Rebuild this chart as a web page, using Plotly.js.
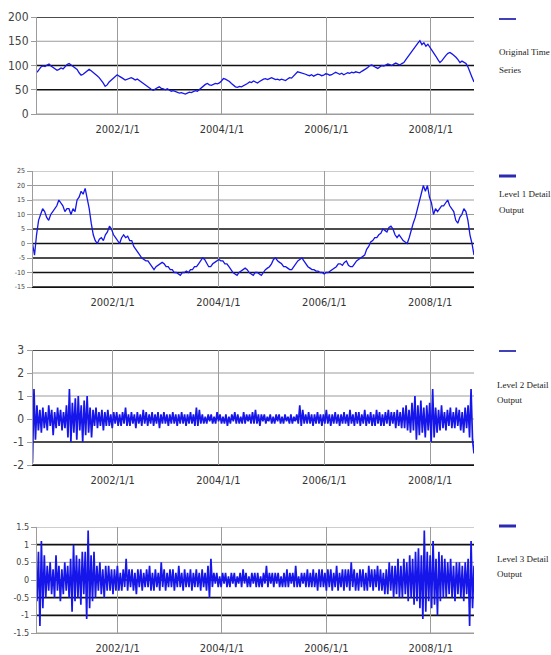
<!DOCTYPE html>
<html><head><meta charset="utf-8">
<script src="https://cdn.plot.ly/plotly-3.0.1.min.js"></script>
<style>html,body{margin:0;padding:0;background:#fff;overflow:hidden}#chart{width:551px;height:655px}</style>
</head><body><div id="chart"></div>
<script>
// ---- data ----
const original = [
86,92,97,99,98,101,103,99,96,93,
90,92,95,93,98,102,104,101,97,94,
92,85,80,82,86,90,92,89,86,83,
79,75,70,64,57,60,66,70,75,79,
81,78,76,73,70,72,74,75,73,70,
72,69,66,62,60,57,53,51,49,52,
54,56,53,52,50,52,49,47,48,46,
45,43,44,42,41,43,45,44,46,48,
47,51,54,58,61,63,60,59,61,63,
62,64,68,73,72,70,67,63,59,56,
55,57,56,58,60,63,66,65,68,66,
64,67,70,72,73,71,73,75,73,71,
72,70,72,71,69,72,75,74,78,84,
87,86,85,84,82,80,79,81,78,80,
82,81,79,80,83,82,80,81,84,86,
84,82,84,81,83,85,84,86,85,87,
86,85,88,90,93,96,100,101,98,96,
94,98,100,99,101,103,102,100,103,105,
103,101,104,106,112,118,124,130,135,140,
146,151,143,147,140,144,138,133,126,119,
112,106,110,116,121,125,127,124,121,117,
112,106,109,107,104,97,88,76,66
];
const level1 = [
0,-4,3,8,10,12,11,9,8,10,
11,12,13,15,14,13,11,12,12,10,
12,11,15,16,18,17,19,16,12,7,
3,1,0,1.5,2,1,3,4,6,5,
3,2,1,0,2,3,2,2.5,1,1,
-1,-2,-3,-4,-5,-5.5,-6,-6,-7,-8,
-9,-8,-7.5,-7,-6.5,-7,-8,-8,-9,-9,
-10,-10,-10.5,-11,-10,-10,-9.5,-10,-9,-9,
-8,-8,-7,-6,-5,-5.5,-7,-8,-8,-7,
-6.5,-6,-5.5,-6,-6,-7,-7,-8,-9,-10,
-10.5,-11,-10,-9.5,-9,-8.5,-9,-10,-10.5,-11,
-10,-10,-10.5,-11,-10,-9,-8.5,-8,-7,-5.5,
-5,-6,-6.5,-7,-8,-8,-8.5,-9,-9,-8,
-7,-6,-5.5,-5,-6,-7,-8,-8.5,-9,-9,
-9.5,-9.5,-10,-10,-10.5,-10,-10,-9.5,-9,-8.5,
-8,-7,-7,-7.5,-6.5,-6,-7.5,-8,-8,-7,
-6,-5.5,-5,-4.5,-4,-2,-1,0.5,1,2,
2,3,3.5,5,4.5,4,5.5,6,5,3,
2,3,2,1,0.5,0,2,5,7,9,
12,14,17,20,18,20,16,14,10,12,
11,12,13,13,14,15,13,12,11,8,
7,9,10,12,11,8,3,0,-4
];
const level2 = [
-1.9,1.3,-0.9,0.6,-0.5,0.4,-0.6,0.5,-0.4,0.3,
-0.5,0.6,-0.3,0.4,-0.7,0.3,-0.4,0.5,-0.3,0.4,
-0.5,0.3,-0.4,0.6,-0.8,1.3,-1.0,0.7,-0.6,0.9,
-0.9,1.0,-0.5,0.6,-1.0,0.8,-0.7,1.0,-0.6,0.5,
-0.8,0.4,-0.3,0.5,-0.4,0.3,-0.3,0.4,-0.5,0.3,
-0.3,0.4,-0.3,0.2,-0.4,0.3,-0.2,0.3,-0.3,0.2,
-0.3,0.3,-0.2,0.5,-0.3,0.2,-0.3,0.3,-0.2,0.2,
-0.4,0.3,-0.2,0.2,-0.3,0.4,-0.2,0.3,-0.3,0.2,
-0.2,0.3,-0.3,0.2,-0.2,0.3,-0.4,0.2,-0.2,0.3,
-0.2,0.2,-0.3,0.2,-0.2,0.3,-0.2,0.2,-0.3,0.2,
-0.2,0.3,-0.2,0.2,-0.3,0.2,-0.2,0.3,-0.2,0.2,
-0.3,0.5,-0.3,0.4,-0.2,0.2,-0.2,0.1,-0.2,0.2,
-0.1,0.2,-0.2,0.1,-0.2,0.3,-0.1,0.2,-0.2,0.1,
-0.2,0.2,-0.3,0.1,-0.2,0.2,-0.1,0.3,-0.2,0.2,
-0.2,0.1,-0.2,0.3,-0.2,0.2,-0.1,0.2,-0.2,0.3,
-0.2,0.4,-0.2,0.2,-0.3,0.2,-0.1,0.2,-0.2,0.1,
-0.1,0.2,-0.2,0.1,-0.2,0.2,-0.1,0.2,-0.2,0.1,
-0.2,0.2,-0.1,0.1,-0.2,0.2,-0.2,0.1,-0.1,0.2,
-0.2,0.6,-0.3,0.4,-0.2,0.2,-0.2,0.3,-0.2,0.2,
-0.3,0.2,-0.2,0.3,-0.2,0.2,-0.3,0.2,-0.2,0.4,
-0.2,0.2,-0.3,0.2,-0.2,0.3,-0.2,0.2,-0.3,0.2,
-0.2,0.3,-0.2,0.2,-0.3,0.4,-0.2,0.2,-0.3,0.3,
-0.2,0.3,-0.3,0.2,-0.2,0.4,-0.3,0.2,-0.2,0.3,
-0.3,0.2,-0.3,0.4,-0.2,0.3,-0.3,0.2,-0.3,0.3,
-0.2,0.4,-0.3,0.3,-0.2,0.3,-0.4,0.4,-0.3,0.3,
-0.4,0.5,-0.4,0.6,-0.5,0.4,-0.6,0.7,-0.5,1.0,
-0.9,0.6,-0.7,0.8,-0.6,0.5,-0.8,0.6,-0.5,0.7,
-1.0,1.3,-0.8,0.5,-0.6,0.4,-0.5,0.6,-0.4,0.3,
-0.5,0.4,-0.3,0.5,-0.4,0.3,-0.4,0.5,-0.3,0.4,
-0.5,0.3,-0.6,0.5,-0.4,0.6,-0.8,1.3,-0.9,-1.5
];
const level3 = [
-0.6,0.8,-1.3,1.1,-0.8,0.7,-0.5,0.4,-0.3,0.5,
-0.4,0.3,-0.5,0.7,-0.3,0.4,-0.6,0.3,-0.4,0.5,
-0.3,0.4,-0.5,0.6,-0.9,1.0,-0.6,0.7,-0.5,0.6,
-0.7,0.8,-0.4,0.8,-1.1,1.4,-0.8,0.7,-0.6,0.8,
-0.5,0.4,-0.3,0.5,-0.4,0.3,-0.5,0.4,-0.3,0.4,
-0.3,0.3,-0.4,0.3,-0.3,0.4,-0.3,0.2,-0.3,0.3,
-0.2,0.6,-0.3,0.3,-0.2,0.3,-0.3,0.2,-0.4,0.3,
-0.2,0.3,-0.3,0.2,-0.2,0.3,-0.2,0.4,-0.3,0.2,
-0.3,0.3,-0.2,0.2,-0.3,0.5,-0.2,0.3,-0.3,0.2,
-0.2,0.3,-0.2,0.3,-0.3,0.2,-0.2,0.4,-0.2,0.2,
-0.3,0.3,-0.2,0.2,-0.2,0.3,-0.3,0.2,-0.2,0.3,
-0.2,0.2,-0.3,0.3,-0.2,0.2,-0.3,0.4,-0.5,0.6,
-0.2,0.2,-0.1,0.2,-0.2,0.1,-0.2,0.2,-0.1,0.2,
-0.2,0.1,-0.2,0.2,-0.1,0.2,-0.2,0.1,-0.1,0.2,
-0.2,0.3,-0.1,0.2,-0.2,0.1,-0.2,0.2,-0.1,0.2,
-0.2,0.2,-0.2,0.1,-0.2,0.2,-0.1,0.4,-0.2,0.2,
-0.1,0.2,-0.2,0.2,-0.1,0.2,-0.2,0.1,-0.2,0.2,
-0.2,0.3,-0.2,0.2,-0.1,0.2,-0.2,0.4,-0.2,0.1,
-0.2,0.2,-0.1,0.2,-0.2,0.3,-0.2,0.2,-0.2,0.3,
-0.2,0.2,-0.3,0.3,-0.2,0.3,-0.2,0.2,-0.3,0.3,
-0.2,0.3,-0.3,0.2,-0.2,0.4,-0.3,0.2,-0.2,0.3,
-0.3,0.3,-0.2,0.3,-0.3,0.5,-0.2,0.3,-0.3,0.2,
-0.3,0.3,-0.2,0.3,-0.3,0.2,-0.3,0.4,-0.2,0.3,
-0.3,0.3,-0.2,0.4,-0.3,0.3,-0.3,0.2,-0.4,0.3,
-0.4,0.5,-0.3,0.4,-0.5,0.4,-0.4,0.6,-0.5,0.4,
-0.5,0.6,-0.4,0.5,-0.6,0.7,-0.5,0.6,-0.7,0.8,
-0.6,0.9,-0.8,0.7,-1.1,1.4,-0.9,0.8,-0.6,0.7,
-0.8,1.1,-0.7,0.6,-1.0,0.8,-0.6,0.7,-0.5,0.6,
-0.5,0.5,-0.4,0.6,-0.5,0.4,-0.6,0.5,-0.4,0.5,
-0.5,0.4,-0.6,0.5,-0.4,0.6,-1.3,1.1,-0.8,0.4
];
const seriesNames = [["Original Time","Series"],["Level 1 Detail","Output"],["Level 2 Detail","Output"],["Level 3 Detail","Output"]];
const xTickVals = ["2002-01-01","2004-01-01","2006-01-01","2008-01-01"];
const xTickText = ["2002/1/1","2004/1/1","2006/1/1","2008/1/1"];
const y1Ticks = [0,50,100,150,200];
const y2Ticks = [-15,-10,-5,0,5,10,15,20,25];
const y3Ticks = [-2,-1,0,1,2,3];
const y4Ticks = [-1.5,-1,-0.5,0,0.5,1,1.5];
const y4Text = ["-1.5","-1","-0.5","0","0.5","1","1.5"];
const blackLines = [[200,100,50],[5,0,-5,-10,-15],[3,-1,-2],[1,0,-0.5,-1]];

// ---- layout ----
const W = 551, H = 655;
const startA = "2000-06-16", startB = "2000-06-27", endAll = "2008-10-30";
function span(a, b){ return (new Date(b) - new Date(a)); }
const blue = "rgb(22,22,235)";
const gridC = "#9c9c9c";
const tickFamily = "'Liberation Sans Narrow','Arial Narrow','DejaVu Sans Condensed','Liberation Sans',sans-serif";

function mkTrace(y, ax, x0, w) {
  return {type:"scatter", mode:"lines", y:y, x0:x0, dx: span(x0, endAll)/(y.length-1),
    xaxis:"x"+(ax===1?"":ax), yaxis:"y"+(ax===1?"":ax),
    line:{color:blue, width:w}, showlegend:false, hoverinfo:"skip"};
}
const traces = [
  mkTrace(original,1,startA,1.3),
  mkTrace(level1,2,startB,1.3),
  mkTrace(level2,3,startB,1.7),
  mkTrace(level3,4,startA,1.7)
];

function xAx(l, r, anchor, start, lineColor) {
  return {domain:[l/W, r/W], anchor:anchor, type:"date", range:[start, endAll],
    tickvals:xTickVals, ticktext:xTickText, showgrid:true, gridcolor:gridC, gridwidth:1,
    zeroline:false, showline:true, linecolor:lineColor, linewidth:1, ticks:"",
    ticklabelstandoff:5, tickfont:{family:tickFamily, size:11, color:"#333"}, fixedrange:true};
}
function yAx(top, bot, anchor, range, vals, text, fs) {
  return {domain:[(H-bot)/H, (H-top)/H], anchor:anchor, range:range,
    tickvals:vals, ticktext:text || vals.map(String), showgrid:false,
    zeroline:false, showline:true, linecolor:gridC, linewidth:1, ticks:"outside", ticklen:5,
    tickcolor:gridC, tickfont:{family:tickFamily, size:fs, color:"#444"}, fixedrange:true};
}

const shapes = [];
[y1Ticks,y2Ticks,y3Ticks,y4Ticks].forEach((vals, k) => {
  const sfx = k===0 ? "" : String(k+1);
  const blk = blackLines[k];
  vals.forEach(v => {
    if (blk.indexOf(v) >= 0) return;
    shapes.push({type:"line", xref:"x"+sfx+" domain", x0:0, x1:1, yref:"y"+sfx, y0:v, y1:v,
      line:{color:gridC, width:1}, layer:"below"});
  });
  blk.forEach(v => shapes.push({type:"line", xref:"x"+sfx+" domain", x0:0, x1:1,
    yref:"y"+sfx, y0:v, y1:v, line:{color:"#111", width:1.6}, layer:"below"}));
});
const legendDashY = [19,176,351,526];
const legendDashW = [1.8,3,1.8,3];
legendDashY.forEach((py, k) => shapes.push({type:"line", xref:"paper", yref:"paper",
  x0:499/W, x1:516/W, y0:(H-py)/H, y1:(H-py)/H, line:{color:"#2b2bb0", width:legendDashW[k]}}));

const textX = [497,497,495,495];
const textY = [[52,70],[194,210],[385,400],[559,574]];
const annotations = [];
seriesNames.forEach((lines, k) => lines.forEach((t, j) => annotations.push({
  text:t, xref:"paper", yref:"paper", x:textX[k]/W, y:(H-textY[k][j])/H,
  xanchor:"left", yanchor:"middle", showarrow:false,
  font:{family:"'Liberation Serif','DejaVu Serif',serif", size:9, color:"#222"}})));

const layout = {
  width:W, height:H, margin:{l:0,r:0,t:0,b:0}, paper_bgcolor:"#fff", plot_bgcolor:"#fff",
  showlegend:false,
  xaxis: xAx(37,474,"y",startA,gridC),
  yaxis: yAx(17,114,"x",[0,200],y1Ticks,null,12),
  xaxis2: xAx(32.5,474,"y2",startB,"#111"),
  yaxis2: yAx(171,287,"x2",[-15,25],y2Ticks,null,7),
  xaxis3: xAx(32.5,474,"y3",startB,"#111"),
  yaxis3: yAx(350,465,"x3",[-2,3],y3Ticks,null,12),
  xaxis4: xAx(37,474,"y4",startA,gridC),
  yaxis4: yAx(527,633,"x4",[-1.5,1.5],y4Ticks,y4Text,9),
  shapes:shapes, annotations:annotations
};
Plotly.newPlot("chart", traces, layout, {staticPlot:true, displayModeBar:false});
</script></body></html>
